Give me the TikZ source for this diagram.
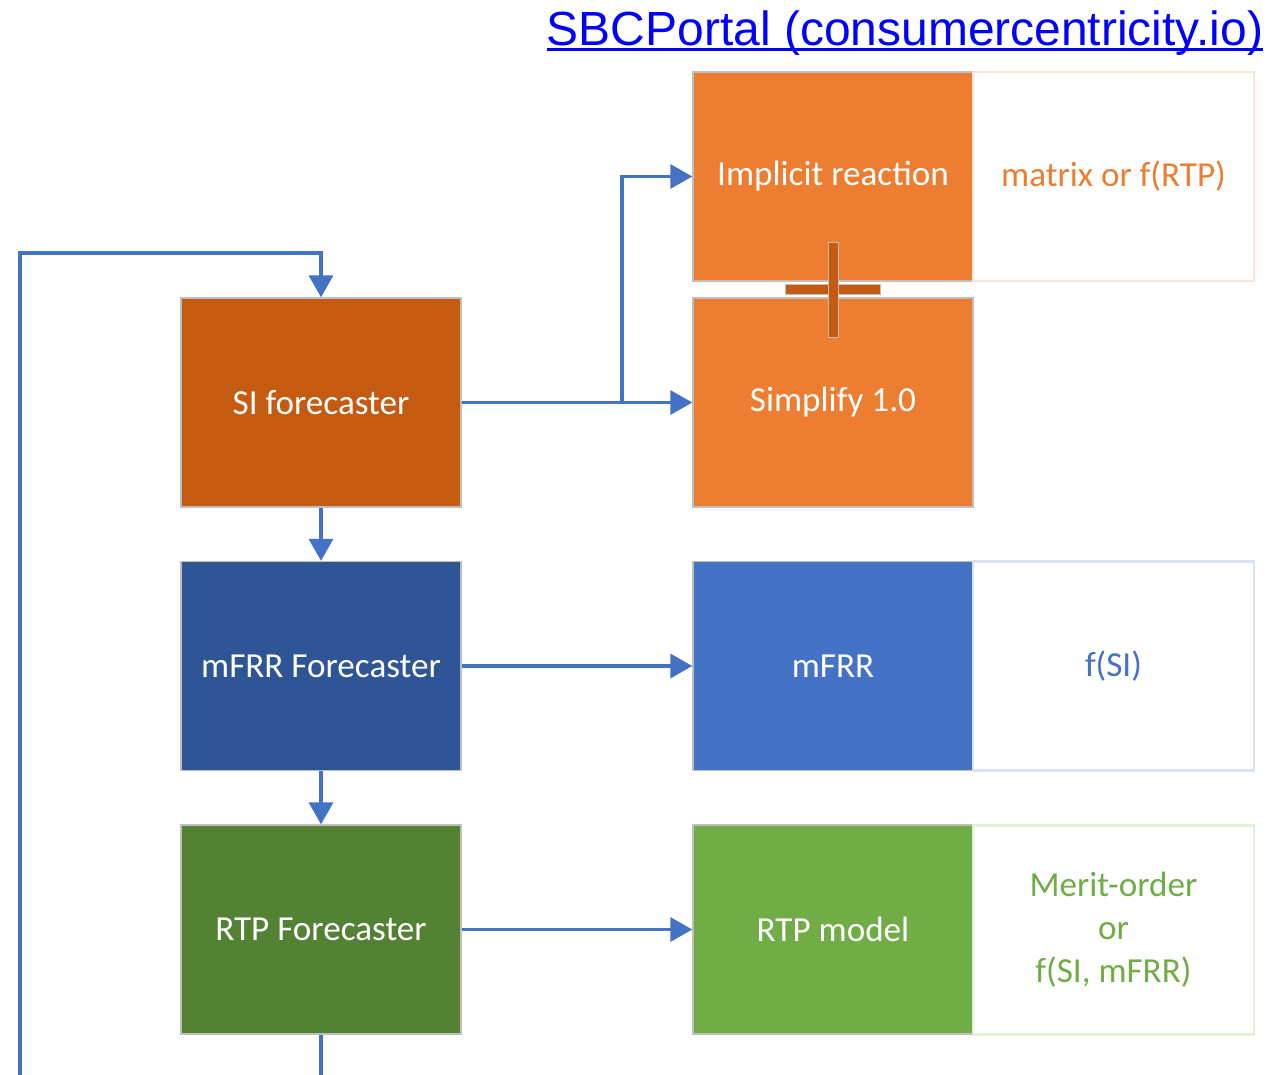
\documentclass[tikz,border=0pt]{standalone}
\usepackage{fontspec}
\setmainfont{Carlito}
\newfontfamily\linkfont{Liberation Sans}
\usetikzlibrary{arrows.meta}

\definecolor{siC}{HTML}{C55A11}
\definecolor{orangeC}{HTML}{ED7D31}
\definecolor{navyC}{HTML}{2F5597}
\definecolor{blueC}{HTML}{4472C4}
\definecolor{greenD}{HTML}{548235}
\definecolor{greenC}{HTML}{70AD47}
\definecolor{edgeC}{HTML}{BFBFBF}
\definecolor{lorange}{HTML}{FBE5D6}
\definecolor{lblue}{HTML}{DAE3F3}
\definecolor{lgreen}{HTML}{E2F0D9}
\definecolor{linkC}{HTML}{0000FF}

\tikzset{
  block/.style={rectangle, draw=edgeC, line width=0.8pt, minimum width=5.6cm,
    minimum height=4.18cm, inner sep=0pt, text=white,
    font=\fontsize{20}{24}\selectfont},
  note/.style={rectangle, line width=1.2pt, fill=white, minimum width=5.62cm,
    minimum height=4.18cm, inner sep=0pt, align=center,
    font=\fontsize{20}{24}\selectfont},
  conn/.style={draw=blueC, line width=2pt,
    -{Triangle[length=0.44cm,width=0.48cm]}}
}

\begin{document}
\begin{tikzpicture}[x=0.02cm, y=-0.02cm]
\useasboundingbox (0,0) rectangle (1273,1074);
\clip (0,0) rectangle (1273,1074);

% link heading
\node[anchor=base, inner sep=0pt, text=linkC,
  font=\linkfont\fontsize{27.3}{30}\selectfont] (link) at (905,46)
  {SBCPortal (consumercentricity.io)};
\draw[linkC, line width=1.8pt] ([yshift=-0.07cm]link.base west) -- ([yshift=-0.07cm]link.base east);

% forecasters column
\node[block, fill=siC] (si) at (321,402.5) {SI forecaster};
\node[block, fill=navyC] (mfrrf) at (321,666) {mFRR Forecaster};
\node[block, fill=greenD] (rtpf) at (321,929.5) {RTP Forecaster};

% models column
\node[block, fill=orangeC] (impl) at (833,176.5) {\raisebox{-0.04cm}{Implicit reaction}};
\node[block, fill=orangeC] (simp) at (833,402.5) {\raisebox{-0.04cm}{Simplify 1.0}};
\node[block, fill=blueC] (mfrr) at (833,666) {mFRR};
\node[block, fill=greenC] (rtpm) at (833,929.5) {RTP model};

% descriptions
\node[note, draw=lorange, text=orangeC] (dimpl) at (1113.5,176.5) {matrix or f(RTP)};
\node[note, draw=lblue, text=blueC] (dmfrr) at (1113.5,666) {f(SI)};
\node[note, draw=lgreen, text=greenC, font=\fontsize{20}{24.5}\selectfont] (drtp) at (1113.5,930) {Merit-order\\or\\f(SI, mFRR)};

% plus sign between the two orange blocks
\filldraw[fill=siC, draw=edgeC, line width=0.5pt] (785,284) rectangle (880,294);
\filldraw[fill=siC, draw=edgeC, line width=0.5pt] (828,242) rectangle (838,337);
\fill[siC] (828.6,284.6) rectangle (837.4,293.4);

% connectors
\coordinate (br) at (622,402.5);
\draw[conn] (si.east) -- (simp.west);
\draw[conn] (br) |- (impl.west);
\draw[conn] (si.south) -- (mfrrf.north);
\draw[conn] (mfrrf.south) -- (rtpf.north);
\draw[conn] (mfrrf.east) -- (mfrr.west);
\draw[conn] (rtpf.east) -- (rtpm.west);

% feedback loop back to the SI forecaster
\coordinate (lb) at (20,1110);
\coordinate (lt) at (20,253);
\draw[conn] (rtpf.south) |- (lb) -- (lt) -| (si.north);
\end{tikzpicture}
\end{document}
